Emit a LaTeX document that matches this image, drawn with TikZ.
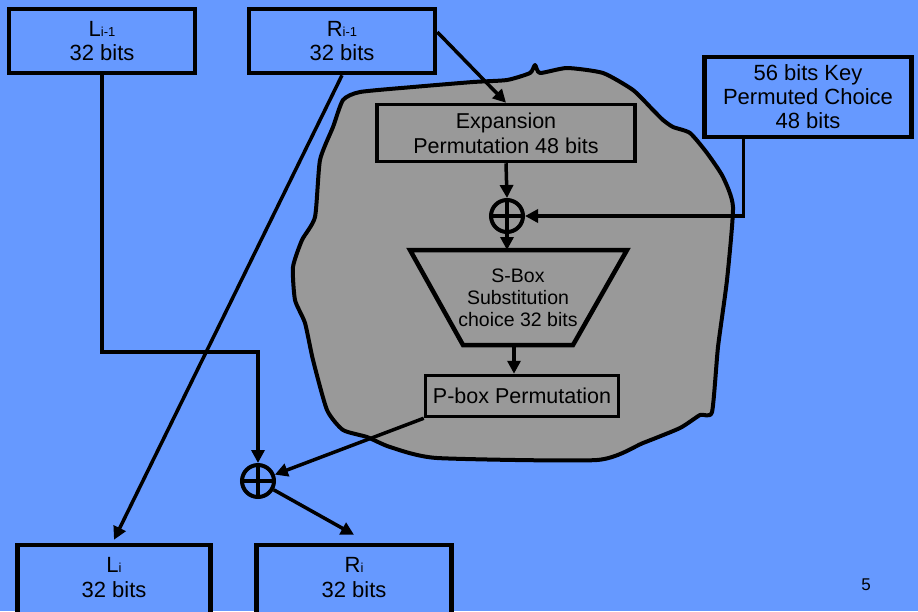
\documentclass[tikz,border=0pt]{standalone}
\usepackage{fontspec}
\setmainfont{Liberation Sans}
\usetikzlibrary{arrows.meta,calc}

\definecolor{slideblue}{RGB}{102,153,255}
\definecolor{blobgrey}{RGB}{153,153,153}

\newcommand{\lowtag}[1]{{\fontsize{13}{13}\selectfont #1}}

\tikzset{
  halfbox/.style={draw, line width=4.5pt, fill=slideblue, minimum width=186pt, minimum height=64pt,
    align=center, inner sep=0pt, font=\fontsize{22}{24}\selectfont},
  stagebox/.style={draw, line width=3.5pt, fill=blobgrey, align=center, inner sep=0pt,
    font=\fontsize{21.5}{25}\selectfont},
  xorsym/.style={circle, draw, line width=4pt, minimum size=32pt, inner sep=0pt,
    path picture={\draw[line width=3.5pt] (path picture bounding box.north) -- (path picture bounding box.south)
      (path picture bounding box.west) -- (path picture bounding box.east);}},
  flow/.style={line width=3.5pt, -{Triangle[length=13pt,width=13pt]}},
}

\begin{document}
\begin{tikzpicture}[x=1pt, y=-1pt]
  % Slide background
  \fill[slideblue] (0,0) rectangle (918,611);
  \useasboundingbox (0,0) rectangle (918,611);

  % Grey blob round the round function
  \draw[line width=4pt, fill=blobgrey, line join=round]
    plot[smooth cycle, tension=0.35] coordinates {
      (343,100) (360,92) (413,87) (473,82) (507,80) (530,73) (535,65) (540,73)
      (567,68) (603,73) (633,90) (653,110) (663,120) (673,127) (690,133)
      (707,153) (723,177) (733,207) (727,280) (718,347) (712,412) (700,415)
      (680,428) (643,443) (597,460) (437,458) (390,447) (367,437) (343,430)
      (327,410) (313,360) (305,323) (295,300) (293,267) (302,240) (315,217)
      (320,160) (333,127)};

  % Input halves
  \node[halfbox] (lprev) at (102,41) {L\lowtag{i-1}\\32 bits};
  \node[halfbox] (rprev) at (342,41) {R\lowtag{i-1}\\32 bits};

  % Key
  \node[halfbox, minimum width=207pt, minimum height=80pt] (key) at (808,97)
    {56 bits Key\\Permuted Choice\\48 bits};

  % Stages inside the blob
  \node[stagebox, minimum width=258pt, minimum height=57pt] (expand) at (506,133)
    {Expansion\\Permutation 48 bits};
  \node[xorsym] (xora) at (507,216) {};
  \draw[line width=4.5pt, fill=blobgrey, line join=miter]
    (410,250) -- (627,250) -- (573,345) -- (463,345) -- cycle;
  \node[align=center, font=\fontsize{19.5}{22}\selectfont] (sbox) at (518,298)
    {S-Box\\Substitution\\choice 32 bits};
  \coordinate (sboxtop) at (507,250);
  \coordinate (sboxbot) at (514,345);
  \node[stagebox, minimum width=193pt, minimum height=41pt] (pbox) at (522,396)
    {P-box Permutation};

  % Output halves
  \node[xorsym] (xorb) at (258,481) {};
  \node[halfbox, minimum width=193pt, minimum height=74pt] (lnext) at (114,582) {};
  \node at (114,565) {\fontsize{22}{24}\selectfont L\lowtag{i}};
  \node at (114,590) {\fontsize{22}{24}\selectfont 32 bits};
  \node[halfbox, minimum width=195pt, minimum height=74pt] (rnext) at (354,582) {};
  \node at (354,565) {\fontsize{22}{24}\selectfont R\lowtag{i}};
  \node at (354,590) {\fontsize{22}{24}\selectfont 32 bits};

  % Connectors
  \coordinate (lbend) at (258,352);
  \coordinate (keytap) at ($(key.south west)+(41,0)$);
  \draw[flow] (lprev.south) |- (lbend) -- (xorb.north);
  \draw[flow] (rprev.south) -- ($(lnext.north)+(0,-3)$);
  \draw[flow] ($(rprev.east)+(0,-9)$) -- (expand.north);
  \draw[flow] (expand.south) -- (xora.north);
  \draw[flow] (keytap) |- (xora.east);
  \draw[flow] (xora.south) -- (sboxtop);
  \draw[flow] (sboxbot) -- (sboxbot |- pbox.north);
  \draw[flow] (pbox.south west) -- (xorb);
  \draw[flow] (xorb) -- ($(rnext.north)+(0,-8)$);

  % Page number
  \node[font=\fontsize{17}{17}\selectfont] (pageno) at (866,585) {5};
\end{tikzpicture}
\end{document}
